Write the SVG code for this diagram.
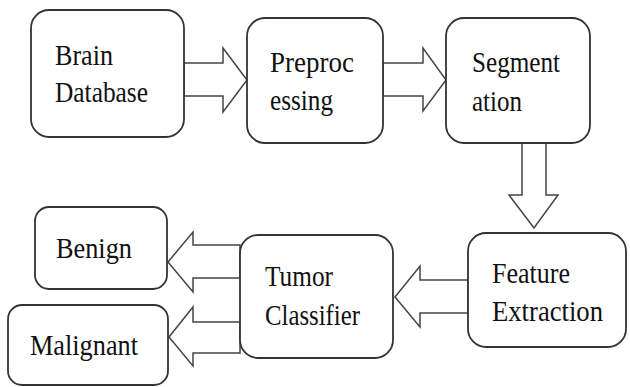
<svg xmlns="http://www.w3.org/2000/svg" width="630" height="387" viewBox="0 0 630 387">
<style>
.box{fill:#fff;stroke:#333;stroke-width:1.8}
.arr{fill:#fff;stroke:#444;stroke-width:1.5;stroke-linejoin:miter}
.t{font-family:'Liberation Serif','Times New Roman',serif;font-size:30px;fill:#111}
</style>
<rect width="630" height="387" fill="#fff"/>
<g id="connectors">
<polygon class="arr" points="184,63 223,63 223,48 247,80 223,112 223,96 184,96"/>
<polygon class="arr" points="383,63 423,63 423,48 446,80 423,111 423,96 383,96"/>
<polygon class="arr" points="522,143 546,143 546,195 558,195 534,228 509,195 522,195"/>
<polygon class="arr" points="468,280 420,280 420,266 395,297 420,327 420,313 468,313"/>
<polygon class="arr" points="240,245 193,245 193,232 168,262 193,292 193,278 240,278"/>
<polygon class="arr" points="240,322 193,322 193,307 169,337 193,366 193,353 240,353"/>
</g>
<g id="brain">
<rect class="box" x="31" y="10" width="153" height="127" rx="18"/>
<text class="t" x="55" y="65" textLength="58" lengthAdjust="spacingAndGlyphs">Brain</text>
<text class="t" x="55" y="102" textLength="93" lengthAdjust="spacingAndGlyphs">Database</text>
</g>
<g id="preprocessing">
<rect class="box" x="247" y="18" width="136" height="125" rx="18"/>
<text class="t" x="270" y="72" textLength="84" lengthAdjust="spacingAndGlyphs">Preproc</text>
<text class="t" x="270" y="110" textLength="63" lengthAdjust="spacingAndGlyphs">essing</text>
</g>
<g id="segmentation">
<rect class="box" x="446" y="18" width="144" height="125" rx="18"/>
<text class="t" x="472" y="72" textLength="88" lengthAdjust="spacingAndGlyphs">Segment</text>
<text class="t" x="472" y="111" textLength="50" lengthAdjust="spacingAndGlyphs">ation</text>
</g>
<g id="feature">
<rect class="box" x="468" y="233" width="158" height="114" rx="18"/>
<text class="t" x="492" y="283" textLength="78" lengthAdjust="spacingAndGlyphs">Feature</text>
<text class="t" x="492" y="321" textLength="111" lengthAdjust="spacingAndGlyphs">Extraction</text>
</g>
<g id="tumor">
<rect class="box" x="240" y="235" width="153" height="123" rx="18"/>
<text class="t" x="265" y="286" textLength="68" lengthAdjust="spacingAndGlyphs">Tumor</text>
<text class="t" x="265" y="325" textLength="95" lengthAdjust="spacingAndGlyphs">Classifier</text>
</g>
<g id="benign">
<rect class="box" x="35" y="207" width="132" height="82" rx="14"/>
<text class="t" x="56" y="258" textLength="76" lengthAdjust="spacingAndGlyphs">Benign</text>
</g>
<g id="malignant">
<rect class="box" x="8" y="305" width="160" height="80" rx="14"/>
<text class="t" x="30" y="355" textLength="108" lengthAdjust="spacingAndGlyphs">Malignant</text>
</g>
</svg>
